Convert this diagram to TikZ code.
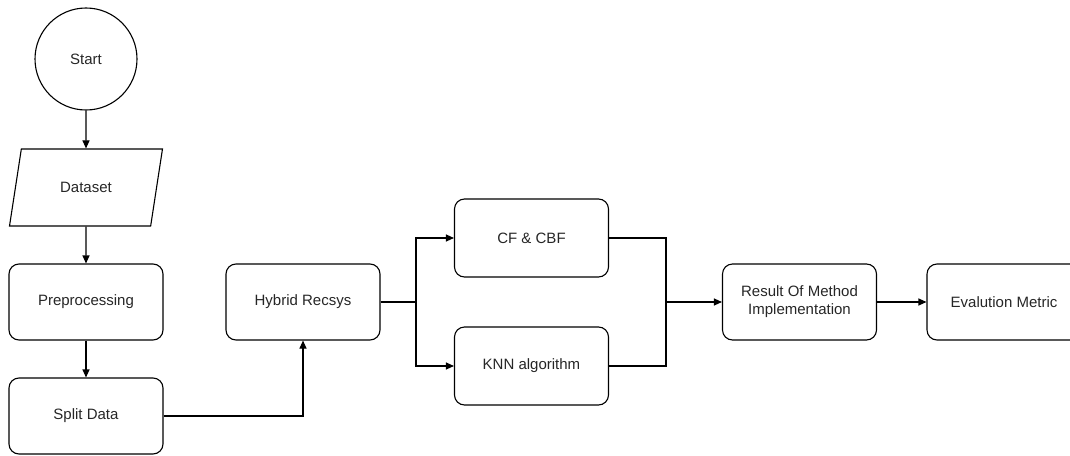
\documentclass[tikz,border=0pt]{standalone}
\usepackage{fontspec}
\setmainfont{Liberation Sans}
\usetikzlibrary{arrows.meta}
\usetikzlibrary{shapes.geometric}

\begin{document}
\begin{tikzpicture}[x=1pt, y=-1pt,
>={Triangle[length=8pt,width=7pt]},
box/.style={draw, rounded corners=10pt, minimum width=154pt, minimum height=76pt, align=center},
every node/.style={font=\fontsize{15}{18}\selectfont, text=black!85, line width=1.1pt}]
\tikzstyle{ar} = [->, line width=1.1pt]
\tikzstyle{ln} = [line width=1.1pt]
\useasboundingbox (0,0) rectangle (1070,455);
\clip (0,0) rectangle (1070,455);

\node[draw, circle, minimum size=102pt] (start) at (86,59) {Start};
\node[draw, trapezium, trapezium left angle=72.7, trapezium right angle=107.3,
  trapezium stretches=true, minimum width=154pt, minimum height=77pt] (data) at (86,187.5) {Dataset};
\node[box] (prep) at (86,302) {Preprocessing};
\node[box] (split) at (86,416) {Split Data};
\node[box] (hybrid) at (303,302) {Hybrid Recsys};
\node[box, minimum height=78pt] (cf) at (531.5,238) {CF \& CBF};
\node[box, minimum height=78pt] (knn) at (531.5,366) {KNN algorithm};
\node[box] (result) at (799.5,302) {Result Of Method\\Implementation};
\node[box] (eval) at (1004,302) {Evalution Metric};

\coordinate (fork) at (416,302);
\coordinate (join) at (666,302);

\draw[ar] (start) -- (data);
\draw[ar] (data) -- (prep);
\draw[ar] (prep) -- (split);
\draw[ar] (split.east) -| (hybrid.south);

% split into the two methods
\draw[ln] (hybrid.east) -- (fork);
\draw[ar] (fork) |- (cf.west);
\draw[ar] (fork) |- (knn.west);

% merge again
\draw[ln] (cf.east) -| (join);
\draw[ln] (knn.east) -| (join);
\draw[ar] (join) -- (result.west);
\draw[ar] (result) -- (eval);
\end{tikzpicture}
\end{document}
